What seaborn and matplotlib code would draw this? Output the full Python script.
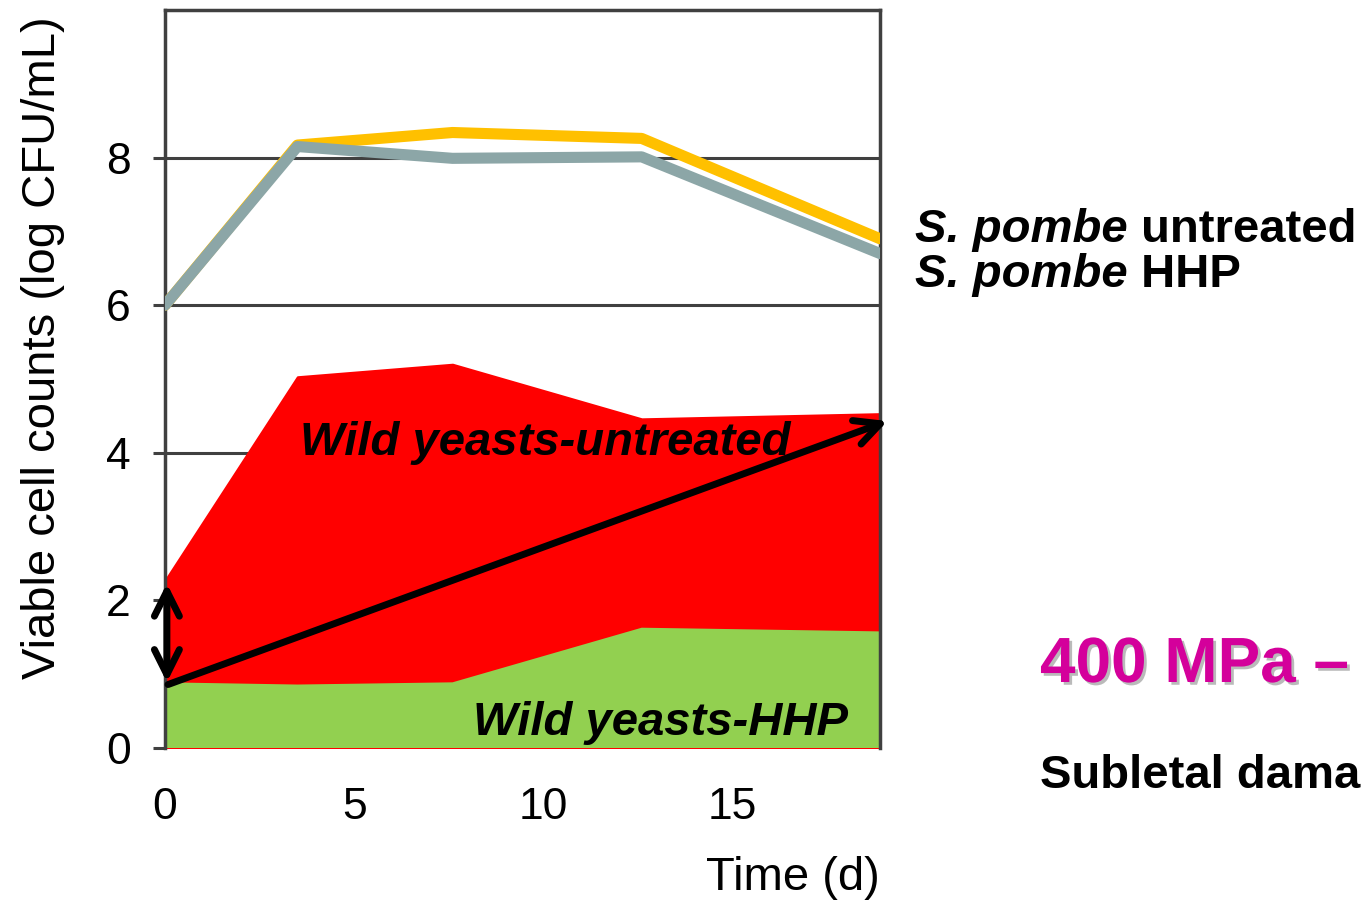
import matplotlib
matplotlib.use("Agg")
import matplotlib.pyplot as plt
import matplotlib.patheffects as pe
import seaborn as sns
import pandas as pd

# ---- data ----
days = [0, 3.5, 7.6, 12.6, 18.9]
pombe_untreated = [6.0, 8.17, 8.34, 8.26, 6.9]
pombe_hhp = [6.0, 8.15, 7.99, 8.01, 6.7]
wild_untreated = [2.27, 5.03, 5.2, 4.46, 4.53]
wild_hhp = [0.89, 0.86, 0.89, 1.63, 1.58]
y_ticks = [0, 2, 4, 6, 8]
x_ticks = [0, 5, 10, 15]
series_names = ["S. pombe untreated", "S. pombe HHP"]

sns.set_theme(style="white")
plt.rcParams["font.family"] = ["Liberation Sans", "DejaVu Sans"]

W, H = 1364, 900
fig = plt.figure(figsize=(W / 100, H / 100), dpi=100)
ax = fig.add_axes([165 / W, 152 / H, 715 / W, 738 / H])

df = pd.DataFrame({
    "day": days * 2,
    "value": pombe_untreated + pombe_hhp,
    "series": [series_names[0]] * len(days) + [series_names[1]] * len(days),
})

# areas for wild yeasts
ax.fill_between(days, 0, wild_untreated, facecolor="#FF0000", edgecolor="#FF0000", lw=1.5, zorder=1)
ax.fill_between(days, 0, wild_hhp, facecolor="#92D050", edgecolor="none", lw=0, zorder=1.1)

sns.lineplot(data=df, x="day", y="value", hue="series", hue_order=series_names,
             palette=["#FFC000", "#8CA6A7"], lw=8, legend=False, sort=False, ax=ax, zorder=3)

ax.set_xlim(0, 18.9)
ax.set_ylim(0, 10)
ax.set_yticks(y_ticks)
ax.set_xticks(x_ticks)
ax.set_yticklabels([str(v) for v in y_ticks])
ax.set_xticklabels([str(v) for v in x_ticks])
ax.yaxis.grid(True, color="#404040", lw=2.2)
ax.xaxis.grid(False)
ax.set_axisbelow(True)

for s in ["left", "top", "right"]:
    ax.spines[s].set_visible(True)
    ax.spines[s].set_color("#404040")
    ax.spines[s].set_linewidth(2.5)
ax.spines["bottom"].set_visible(False)

ax.tick_params(axis="y", direction="out", length=8.6, width=2.2, color="#404040",
               labelsize=32, pad=16, labelcolor="black", left=True)
ax.tick_params(axis="x", length=0, pad=28, labelsize=32, labelcolor="black")

ax.set_xlabel("Time (d)", fontsize=34, loc="right", color="black")
ax.xaxis.set_label_coords(1.0, -0.147)
ax.set_ylabel("Viable cell counts (log CFU/mL)", fontsize=34, color="black")
ax.yaxis.set_label_coords(-0.14, 0.543)

# arrows
ax.annotate("", xy=(19.1, 4.43), xytext=(0.08, 0.86), annotation_clip=False,
            arrowprops=dict(arrowstyle="->,head_length=0.9,head_width=0.45", lw=5,
                            color="black", shrinkA=0, shrinkB=0, mutation_scale=20))
ax.annotate("", xy=(0.05, 2.23), xytext=(0.05, 0.89), annotation_clip=False,
            arrowprops=dict(arrowstyle="<->,head_length=0.9,head_width=0.45", lw=5,
                            color="black", shrinkA=0, shrinkB=0, mutation_scale=20))


def px(x, y):
    return x / W, 1 - y / H


# area labels
fig.text(*px(300, 455), "Wild yeasts-untreated", fontsize=34, fontweight="bold",
         fontstyle="italic", color="black", va="baseline", ha="left")
fig.text(*px(473, 735), "Wild yeasts-HHP", fontsize=34, fontweight="bold",
         fontstyle="italic", color="black", va="baseline", ha="left")

# line labels with mixed styles
fig.canvas.draw()
renderer = fig.canvas.get_renderer()
for base_y, rest in [(242, " untreated"), (287, " HHP")]:
    t1 = fig.text(*px(915, base_y), "S. pombe", fontsize=34, fontweight="bold",
                  fontstyle="italic", color="black", va="baseline", ha="left")
    bb = t1.get_window_extent(renderer=renderer)
    fig.text(bb.x1 / W, 1 - base_y / H, rest, fontsize=34, fontweight="bold",
             color="black", va="baseline", ha="left")

fig.text(*px(1040, 682), "400 MPa \u2013", fontsize=46, fontweight="bold", color="#D4009B",
         va="baseline", ha="left",
         path_effects=[pe.withSimplePatchShadow(offset=(2, -2), shadow_rgbFace="#777777", alpha=0.5)])
fig.text(*px(1040, 788), "Subletal dama", fontsize=34, fontweight="bold", color="black",
         va="baseline", ha="left")

fig.savefig("out.png", dpi=100)
